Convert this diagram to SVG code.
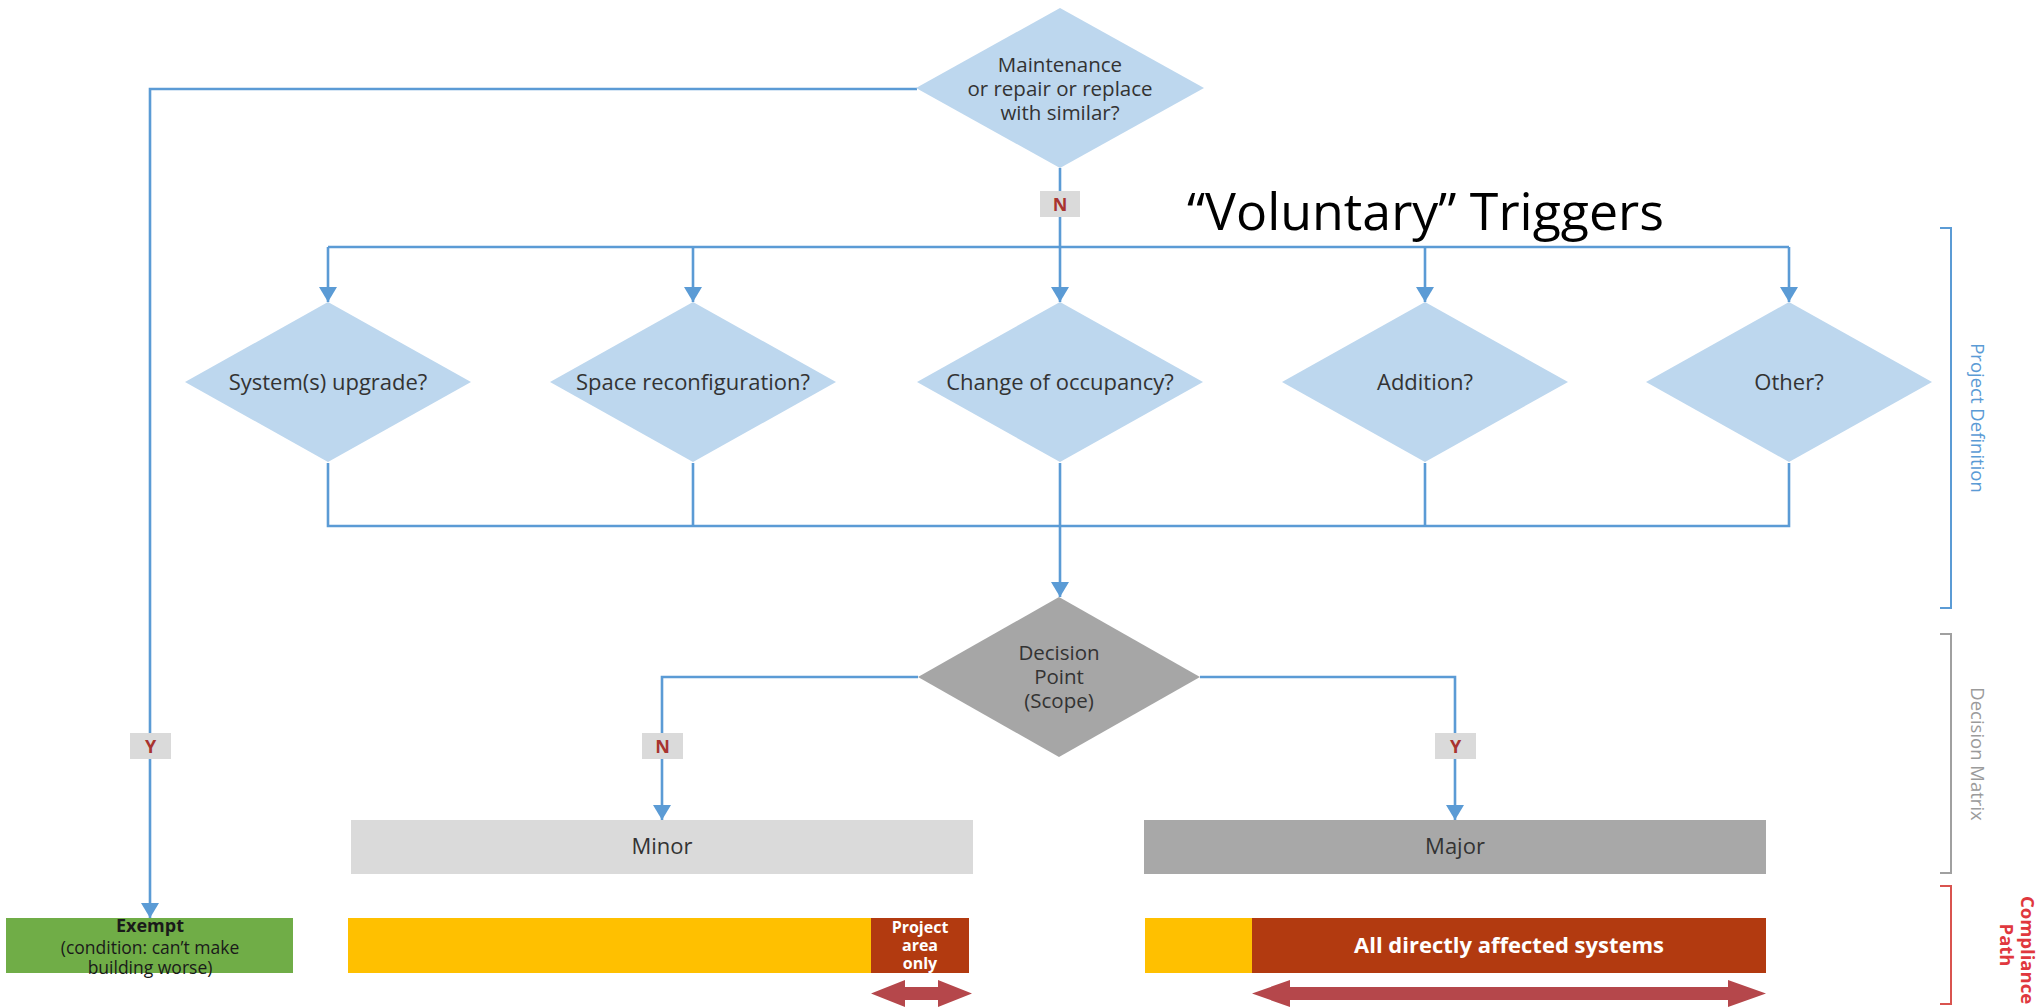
<svg xmlns="http://www.w3.org/2000/svg" width="2042" height="1008" viewBox="0 0 2042 1008">
<style>
  .bg{fill:#ffffff}
  .ln{fill:none;stroke:#5b9bd5;stroke-width:2.6}
  .dq{fill:#bdd7ee}
  .dg{fill:#a6a6a6}
  .t{font-family:"Open Sans","Liberation Sans",sans-serif;fill:#333333;text-anchor:middle}
  .dt{font-size:22px}
  .mt{font-size:20.5px}
  .w{fill:#ffffff;font-weight:bold}
  .ex{fill:#1a1a1a}
  .lbl{fill:#dadada}
  .lt{font-family:"Open Sans","Liberation Sans",sans-serif;font-weight:bold;font-size:18px;fill:#a8342f;text-anchor:middle}
  .side{font-family:"Open Sans","Liberation Sans",sans-serif;font-size:18.5px;text-anchor:middle}
  .dbl{fill:#b5474b}
</style>
<defs>
  <marker id="ah" markerUnits="userSpaceOnUse" markerWidth="16" markerHeight="18" viewBox="0 0 16 18" refX="15" refY="9" orient="auto">
    <path d="M0,0 L15,9 L0,18 Z" fill="#5b9bd5"/>
  </marker>
</defs>
<rect class="bg" x="0" y="0" width="2042" height="1008"/>

<g id="connectors">
  <path class="ln" d="M917,89 H150 V918" marker-end="url(#ah)"/>
  <path class="ln" d="M1060,168 V302" marker-end="url(#ah)"/>
  <path class="ln" d="M328,247 H1789"/>
  <path class="ln" d="M328,247 V302" marker-end="url(#ah)"/>
  <path class="ln" d="M693,247 V302" marker-end="url(#ah)"/>
  <path class="ln" d="M1425,247 V302" marker-end="url(#ah)"/>
  <path class="ln" d="M1789,247 V302" marker-end="url(#ah)"/>
  <path class="ln" d="M328,463 V526 H1789 V463"/>
  <path class="ln" d="M693,463 V526"/>
  <path class="ln" d="M1425,463 V526"/>
  <path class="ln" d="M1060,463 V597" marker-end="url(#ah)"/>
  <path class="ln" d="M918,677 H662 V820" marker-end="url(#ah)"/>
  <path class="ln" d="M1200,677 H1455 V820" marker-end="url(#ah)"/>
</g>

<g id="label-top-n">
  <rect class="lbl" x="1040" y="191" width="40" height="26"/>
  <text class="lt" x="1060" y="211">N</text>
</g>
<g id="label-left-y">
  <rect class="lbl" x="130" y="733" width="41" height="26"/>
  <text class="lt" x="150.5" y="753">Y</text>
</g>
<g id="label-minor-n">
  <rect class="lbl" x="642" y="733" width="41" height="26"/>
  <text class="lt" x="662.5" y="753">N</text>
</g>
<g id="label-major-y">
  <rect class="lbl" x="1435" y="733" width="41" height="26"/>
  <text class="lt" x="1455.5" y="753">Y</text>
</g>

<g id="maintenance">
  <polygon class="dq" points="1060,8 1204,88 1060,168 916,88"/>
  <text class="t mt" x="1060" y="72">Maintenance</text>
  <text class="t mt" x="1060" y="96">or repair or replace</text>
  <text class="t mt" x="1060" y="120">with similar?</text>
</g>

<g id="voluntary-triggers">
  <text x="1187" y="230" font-family="'Open Sans','Liberation Sans',sans-serif" font-size="52" fill="#000000" textLength="477" lengthAdjust="spacingAndGlyphs">“Voluntary” Triggers</text>
</g>

<g id="system-upgrade">
  <polygon class="dq" points="328,302 471,382 328,462 185,382"/>
  <text class="t dt" x="328" y="390">System(s) upgrade?</text>
</g>
<g id="space-reconfiguration">
  <polygon class="dq" points="693,302 836,382 693,462 550,382"/>
  <text class="t dt" x="693" y="390">Space reconfiguration?</text>
</g>
<g id="change-of-occupancy">
  <polygon class="dq" points="1060,302 1203,382 1060,462 917,382"/>
  <text class="t dt" x="1060" y="390">Change of occupancy?</text>
</g>
<g id="addition">
  <polygon class="dq" points="1425,302 1568,382 1425,462 1282,382"/>
  <text class="t dt" x="1425" y="390">Addition?</text>
</g>
<g id="other">
  <polygon class="dq" points="1789,302 1932,382 1789,462 1646,382"/>
  <text class="t dt" x="1789" y="390">Other?</text>
</g>

<g id="decision-point">
  <polygon class="dg" points="1059,597 1200,677 1059,757 918,677"/>
  <text class="t mt" x="1059" y="660">Decision</text>
  <text class="t mt" x="1059" y="684">Point</text>
  <text class="t mt" x="1059" y="708">(Scope)</text>
</g>

<g id="minor">
  <rect x="351" y="820" width="622" height="54" fill="#dadada"/>
  <text class="t dt" x="662" y="854">Minor</text>
</g>
<g id="major">
  <rect x="1144" y="820" width="622" height="54" fill="#a8a8a8"/>
  <text class="t dt" x="1455" y="854">Major</text>
</g>

<g id="exempt">
  <rect x="6" y="918" width="287" height="55" fill="#70ad47"/>
  <text class="t ex" x="150" y="932" font-size="18" font-weight="bold">Exempt</text>
  <text class="t ex" x="150" y="954" font-size="17.5">(condition: can’t make</text>
  <text class="t ex" x="150" y="974" font-size="17.5">building worse)</text>
</g>

<g id="minor-path">
  <rect x="348" y="918" width="524" height="55" fill="#ffc000"/>
  <rect x="871" y="918" width="98" height="55" fill="#b23a10"/>
  <text class="t w" x="920" y="933" font-size="16">Project</text>
  <text class="t w" x="920" y="951" font-size="16">area</text>
  <text class="t w" x="920" y="969" font-size="16">only</text>
</g>
<g id="major-path">
  <rect x="1145" y="918" width="108" height="55" fill="#ffc000"/>
  <rect x="1252" y="918" width="514" height="55" fill="#b23a10"/>
  <text class="t w" x="1509" y="953" font-size="22">All directly affected systems</text>
</g>

<g id="scope-arrows">
  <polygon class="dbl" points="871,993.5 905,980 905,987 938,987 938,980 972,993.5 938,1007 938,1000 905,1000 905,1007"/>
  <polygon class="dbl" points="1252,993.5 1290,980 1290,987 1728,987 1728,980 1766,993.5 1728,1007 1728,1000 1290,1000 1290,1007"/>
</g>

<g id="bracket-project-definition">
  <path d="M1940,228 H1951 V608 H1940" fill="none" stroke="#5b9bd5" stroke-width="2"/>
  <text class="side" transform="translate(1971,418) rotate(90)" fill="#5b9bd5">Project Definition</text>
</g>
<g id="bracket-decision-matrix">
  <path d="M1940,634 H1951 V873 H1940" fill="none" stroke="#a0a0a0" stroke-width="2"/>
  <text class="side" transform="translate(1971,754) rotate(90)" fill="#9b9b9b">Decision Matrix</text>
</g>
<g id="bracket-compliance-path">
  <path d="M1940,886 H1951 V1004 H1940" fill="none" stroke="#d9534f" stroke-width="2"/>
  <text class="side" transform="translate(2021,950) rotate(90)" fill="#e0383e" font-weight="bold" font-size="20">Compliance</text>
  <text class="side" transform="translate(2000,945) rotate(90)" fill="#e0383e" font-weight="bold" font-size="20">Path</text>
</g>
</svg>
